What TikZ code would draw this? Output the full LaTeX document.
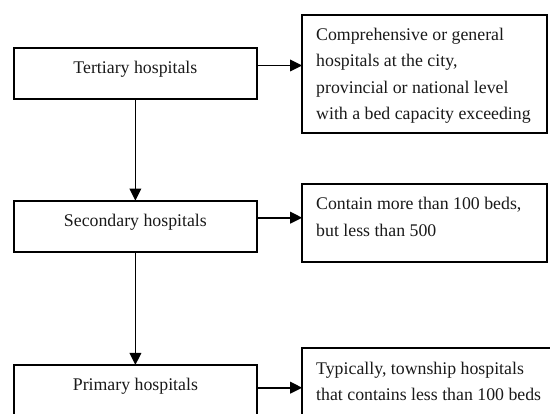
\documentclass[tikz,border=0pt]{standalone}
\usepackage{fontspec}
\setmainfont{Liberation Serif}
\usetikzlibrary{arrows.meta,calc}
\definecolor{ink}{gray}{0.1}
\tikzset{
  txt/.style={font=\fontsize{17.8pt}{26.4pt}\selectfont, text=ink},
  lbox/.style={txt, draw, line width=2pt, outer sep=0pt, anchor=north west,
    minimum width=243.8pt, minimum height=51pt, inner ysep=13.2pt,
    text height=12.3pt, text depth=12.3pt, align=center},
  rbox/.style={txt, draw, line width=1.8pt, outer sep=0pt, anchor=north west,
    inner xsep=14pt, inner ysep=13.5pt},
  arr/.style={line width=1.8pt, -{Triangle[length=12pt,width=11.5pt]}}
}
\newcommand{\rtext}[3]{\parbox[c][#1][t]{#2}{\raggedright #3}}
\begin{document}
\begin{tikzpicture}[x=1pt,y=-1pt]
\useasboundingbox (0,0) rectangle (550,414);
\clip (0,0) rectangle (550,414);
% left column
\node[lbox] (t) at (13.5,48) {Tertiary hospitals};
\node[lbox] (s) at (13.5,200.7) {Secondary hospitals};
\node[lbox] (p) at (13.5,365) {Primary hospitals};
% right column
\node[rbox] (tr) at (302.2,14.7) {\rtext{91pt}{217pt}{Comprehensive or general\\hospitals at the city,\\provincial or national level\\with a bed capacity exceeding}};
\node[rbox] (sr) at (302.2,184) {\rtext{50.7pt}{217pt}{Contain more than 100 beds,\\but less than 500}};
\node[rbox] (pr) at (302.2,348.3) {\rtext{60pt}{240pt}{Typically, township hospitals\\that contains less than 100 beds}};
% connectors
\draw[arr] (t.south) -- (s.north);
\draw[arr] (s.south) -- (p.north);
\coordinate (a1) at ($(t.north east)+(0,17.5)$);
\coordinate (a2) at ($(s.north east)+(0,17)$);
\coordinate (a3) at ($(p.north east)+(0,22.7)$);
\draw[arr] (a1) -- (a1 -| tr.west);
\draw[arr] (a2) -- (a2 -| sr.west);
\draw[arr] (a3) -- (a3 -| pr.west);
\end{tikzpicture}
\end{document}
